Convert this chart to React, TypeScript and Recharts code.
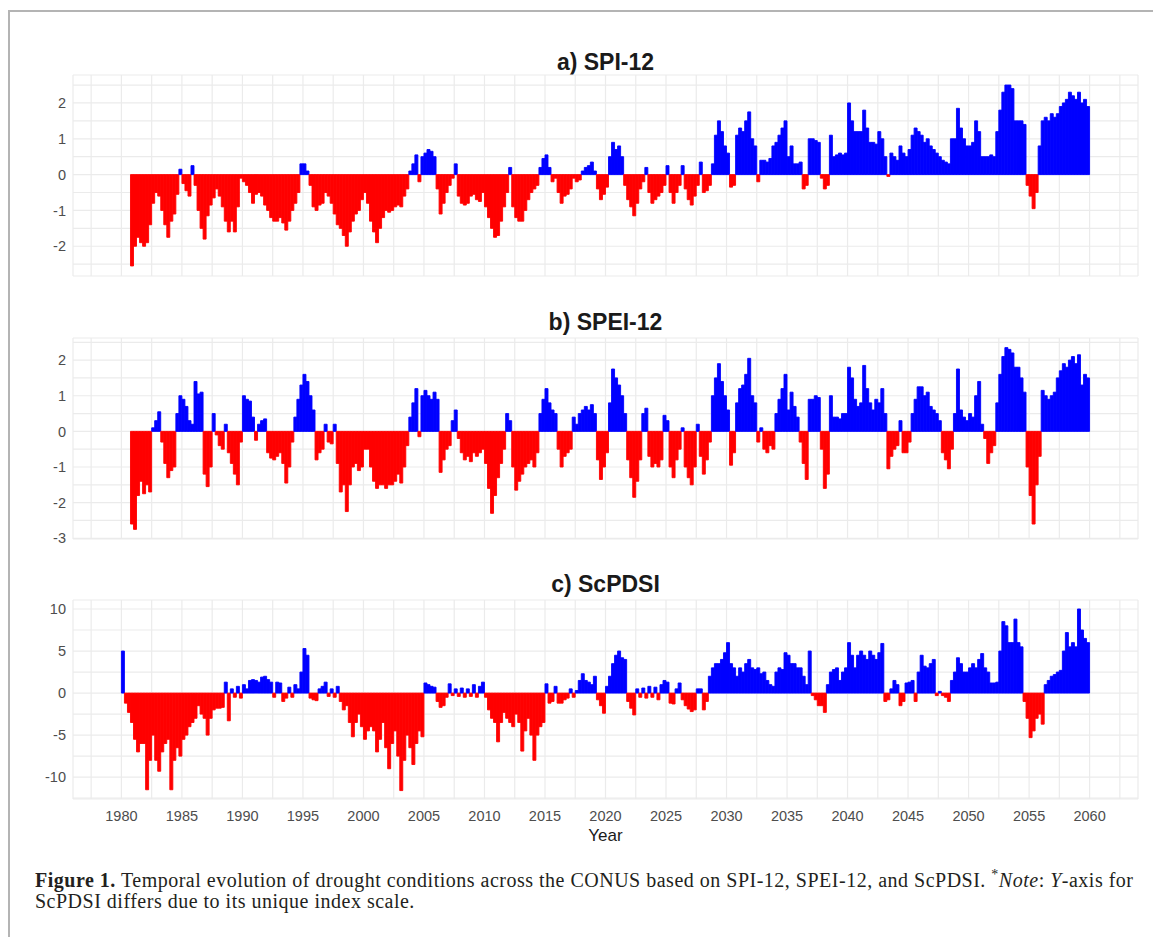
import { Bar, BarChart, CartesianGrid, Cell, XAxis, YAxis } from "recharts";

// Quarterly index values, one row per year (Q1..Q4), 1980 to 2059. null = no value yet.
const spi12 = [
  null, null, null, -2.55, // 1980
  -2.0, -1.75, -1.9, -2.0,
  -1.9, -1.4, -0.8, -0.5,
  -0.6, -1.0, -1.4, -1.75,
  -1.3, -1.1, -0.55, 0.15,
  -0.25, -0.45, -0.6, 0.25, // 1985
  -0.3, -1.0, -1.5, -1.8,
  -1.15, -0.85, -0.65, -0.4,
  -0.6, -0.9, -1.3, -1.6,
  -1.3, -1.6, -0.9, -0.1,
  -0.2, -0.3, -0.5, -0.8, // 1990
  -0.55, -0.5, -0.6, -0.85,
  -1.0, -1.2, -1.3, -1.3,
  -1.2, -1.35, -1.55, -1.3,
  -1.0, -0.8, -0.5, 0.3,
  0.3, 0.1, -0.3, -0.9, // 1995
  -1.0, -0.85, -0.8, -0.5,
  -0.6, -0.8, -1.1, -1.4,
  -1.5, -1.7, -2.0, -1.6,
  -1.3, -1.1, -1.0, -0.7,
  -0.5, -0.8, -1.3, -1.6, // 2000
  -1.9, -1.5, -1.2, -1.0,
  -1.05, -1.0, -0.9, -0.85,
  -0.9, -0.6, -0.4, 0.1,
  0.3, 0.55, -0.2, 0.5,
  0.6, 0.7, 0.65, 0.5, // 2005
  -0.4, -1.1, -0.8, -0.5,
  -0.3, -0.1, 0.3, -0.6,
  -0.8, -0.85, -0.8, -0.6,
  -0.55, -0.7, -0.75, -0.5,
  -0.9, -1.2, -1.5, -1.75, // 2010
  -1.7, -1.3, -0.9, -0.5,
  0.2, -0.9, -1.2, -1.3,
  -1.3, -1.0, -0.7, -0.5,
  -0.4, -0.3, 0.2, 0.45,
  0.55, 0.2, -0.2, -0.1, // 2015
  -0.5, -0.8, -0.6, -0.55,
  -0.4, -0.1, -0.2, -0.15,
  0.1, 0.2, 0.25, 0.35,
  0.1, -0.4, -0.7, -0.55,
  -0.35, 0.5, 0.9, 0.7, // 2020
  0.8, 0.5, -0.3, -0.7,
  -0.9, -1.15, -0.8, -0.4,
  -0.2, 0.2, -0.5, -0.8,
  -0.7, -0.6, -0.5, -0.3,
  0.25, -0.5, -0.8, -0.5, // 2025
  -0.3, 0.25, -0.4, -0.7,
  -0.85, -0.6, -0.3, 0.35,
  -0.5, -0.45, -0.3, 0.3,
  1.1, 1.5, 1.2, 0.8,
  0.6, -0.35, -0.3, 1.1, // 2030
  1.3, 1.2, 1.5, 1.75,
  1.0, 0.8, -0.2, 0.4,
  0.4, 0.35, 0.45, 0.8,
  0.9, 1.1, 1.3, 1.5,
  0.5, 0.8, 0.3, 0.3, // 2035
  0.35, -0.4, -0.3, 1.0,
  1.0, 0.95, 0.9, -0.1,
  -0.4, -0.3, 1.1, 0.5,
  0.55, 0.6, 0.55, 0.6,
  2.0, 1.5, 1.2, 1.2, // 2040
  1.2, 1.8, 1.3, 0.9,
  0.9, 0.85, 1.2, 1.0,
  0.5, -0.05, 0.6, 0.5,
  0.4, 0.8, 0.6, 0.5,
  0.7, 1.1, 1.3, 1.2, // 2045
  1.1, 0.9, 1.0, 0.8,
  0.7, 0.6, 0.5, 0.4,
  0.35, 0.3, 1.0, 1.0,
  1.85, 1.3, 1.0, 0.8,
  0.8, 0.9, 1.5, 1.2, // 2050
  0.5, 0.5, 0.5, 0.55,
  0.5, 1.2, 1.8, 2.3,
  2.5, 2.5, 2.4, 1.5,
  1.5, 1.5, 1.4, -0.3,
  -0.6, -0.95, -0.5, 0.8, // 2055
  1.5, 1.6, 1.5, 1.7,
  1.6, 1.7, 1.9, 2.0,
  2.1, 2.3, 2.2, 2.1,
  2.3, 2.0, 2.1, 1.9,
];

const spei12 = [
  null, null, null, -2.6, // 1980
  -2.75, -1.8, -1.4, -1.75,
  -1.5, -1.7, 0.1, 0.3,
  0.55, -0.3, -0.9, -1.3,
  -1.1, -1.0, 0.5, 1.0,
  0.9, 0.7, 0.3, 0.2, // 1985
  1.4, 1.05, 1.1, -1.2,
  -1.55, -1.0, 0.5, -0.1,
  -0.4, -0.5, 0.2, -0.6,
  -0.9, -1.2, -1.5, -0.3,
  1.0, 0.9, 0.85, 0.4, // 1990
  -0.25, 0.2, 0.3, 0.35,
  -0.6, -0.75, -0.8, -0.7,
  -0.6, -0.9, -1.45, -1.0,
  -0.3, 0.4, 0.9, 1.3,
  1.6, 1.4, 1.0, 0.6, // 1995
  -0.8, -0.6, -0.5, 0.2,
  -0.3, -0.35, 0.2, -0.9,
  -1.7, -1.5, -2.25, -1.5,
  -1.0, -0.9, -1.1, -1.0,
  -0.5, -0.5, -1.0, -1.4, // 2000
  -1.6, -1.5, -1.5, -1.6,
  -1.5, -1.5, -1.4, -1.2,
  -1.45, -1.0, -0.4, 0.4,
  0.8, 1.2, -0.15, 1.0,
  1.15, 1.0, 0.9, 1.1, // 2005
  0.9, -1.15, -0.8, -0.5,
  -0.4, 0.3, 0.6, -0.2,
  -0.6, -0.8, -0.7, -0.85,
  -0.6, -0.7, -0.6, -0.5,
  -0.9, -1.6, -2.3, -1.8, // 2010
  -1.3, -0.9, -0.5, 0.5,
  0.3, -1.0, -1.65, -1.4,
  -1.2, -1.0, -0.9, -0.8,
  -1.0, -0.6, 0.5, 0.9,
  1.2, 0.8, 0.6, 0.5, // 2015
  -0.5, -1.0, -0.7, -0.6,
  -0.5, 0.4, 0.2, 0.5,
  0.6, 0.7, 0.6, 0.75,
  0.5, -0.8, -1.35, -1.0,
  -0.6, 0.8, 1.75, 1.5, // 2020
  1.3, 1.0, 0.5, -0.8,
  -1.3, -1.85, -1.4, -0.8,
  0.5, 0.65, -0.7, -1.0,
  -0.9, -1.0, -0.8, 0.45,
  0.3, -1.0, -1.3, -0.8, // 2025
  -0.5, 0.1, -1.0, -1.3,
  -1.5, -1.0, 0.2, -0.7,
  -1.2, -0.8, -0.3, 1.0,
  1.5, 1.9, 1.4, 1.0,
  0.6, -0.95, -0.6, 0.8, // 2030
  1.2, 1.3, 1.6, 2.05,
  1.0, 0.8, -0.3, 0.1,
  -0.5, -0.6, -0.4, -0.5,
  0.5, 0.9, 1.2, 1.6,
  0.6, 1.1, 0.7, 0.4, // 2035
  -0.3, -0.9, -1.35, 0.9,
  0.9, 1.0, 0.95, -0.5,
  -1.6, -1.2, 1.0, 0.4,
  0.4, 0.35, 0.5, 0.5,
  1.8, 1.5, 0.9, 0.7, // 2040
  0.8, 1.85, 1.2, 0.8,
  0.6, 0.9, 0.8, 1.2,
  0.5, -1.05, -0.7, -0.5,
  -0.4, 0.3, -0.6, -0.6,
  -0.3, 0.5, 0.9, 1.25, // 2045
  1.25, 1.0, 1.1, 0.7,
  0.6, 0.5, 0.3, -0.6,
  -0.8, -1.05, -0.5, 0.5,
  1.75, 0.6, 0.4, 0.3,
  0.5, 0.4, 1.0, 1.4, // 2050
  0.2, -0.2, -0.9, -0.6,
  -0.4, 0.8, 1.6, 2.1,
  2.35, 2.3, 2.2, 1.8,
  1.8, 1.5, 1.1, -1.0,
  -1.8, -2.6, -1.5, -0.7, // 2055
  1.15, 1.0, 0.9, 1.0,
  1.1, 1.5, 1.7, 1.9,
  1.8, 2.0, 2.1, 1.9,
  2.15, 1.3, 1.6, 1.5,
];

const scpdsi = [
  5.0, -1.2, -2.3, -3.5, // 1980
  -5.5, -7.0, -6.0, -6.0,
  -11.5, -8.0, -5.0, -8.0,
  -9.3, -7.0, -6.0, -5.5,
  -11.5, -8.0, -6.5, -7.5,
  -5.5, -5.0, -4.0, -3.5, // 1985
  -3.0, -1.5, -2.5, -3.0,
  -5.0, -3.0, -2.0, -1.8,
  -1.8, -1.7, 1.3, -3.3,
  0.5, -0.5, 0.8, -0.6,
  1.0, 0.5, 1.5, 1.6, // 1990
  1.5, 1.3, 1.9, 2.0,
  1.6, 1.3, -0.5, 1.3,
  1.2, -1.0, -0.6, 0.7,
  -0.5, 1.0, 0.5, 2.5,
  5.3, 4.5, -0.6, -0.8, // 1995
  -0.9, 0.5, 0.8, 1.3,
  -0.4, 0.5, -0.5, 0.8,
  -1.0, -2.0, -1.5, -3.5,
  -5.2, -3.5, -2.5, -4.0,
  -5.5, -4.5, -4.0, -4.5, // 2000
  -7.0, -5.5, -3.5, -6.5,
  -9.0, -6.0, -4.5, -7.5,
  -11.6, -8.0, -5.0, -6.5,
  -8.5, -6.0, -4.5, -5.2,
  1.2, 1.0, 0.8, 0.7, // 2005
  -1.0, -1.7, -1.5, -0.5,
  1.1, -0.3, 0.5, -0.4,
  0.6, -0.5, 0.5, -0.4,
  1.0, -0.5, 0.8, 1.3,
  -0.5, -2.0, -3.0, -3.5, // 2010
  -5.8, -3.5, -2.3, -3.0,
  -3.5, -4.0, -2.5, -3.5,
  -6.9, -4.5, -3.0, -5.0,
  -8.0, -5.0, -4.0, -3.5,
  1.1, -1.2, -1.0, 0.8, // 2015
  -1.2, -1.2, -0.8, -0.6,
  0.5, -0.5, 0.3, 1.5,
  2.3, 1.5, 1.3, 1.0,
  2.0, -0.8, -1.5, -2.4,
  0.8, 2.0, 3.5, 4.5, // 2020
  5.0, 4.2, 4.0, -1.0,
  -1.8, -2.6, 0.5, -0.5,
  0.6, -0.6, 0.8, -0.5,
  0.7, -0.8, 1.0, 1.5,
  1.3, -1.2, -1.3, 0.5, // 2025
  1.2, -0.8, -1.5, -1.9,
  -2.2, -2.0, 0.5, 0.5,
  -2.0, -1.0, 2.0, 3.0,
  3.5, 3.5, 4.0, 4.8,
  6.0, 3.5, 3.0, 2.0, // 2030
  3.0, 2.5, 3.5, 4.0,
  3.0, 2.8, 3.0, 2.3,
  2.5, 1.5, 1.0, 0.8,
  2.5, 3.0, 2.8, 4.8,
  4.5, 3.5, 3.5, 3.0, // 2035
  3.0, 2.0, 1.0, 5.0,
  -0.3, -0.8, -1.5, -1.5,
  -2.3, 1.0, 2.5, 2.8,
  3.0, 1.5, 2.5, 3.0,
  6.0, 4.5, 3.0, 4.5, // 2040
  5.0, 4.5, 4.0, 5.0,
  4.5, 4.0, 4.8, 5.9,
  -1.0, -0.8, 0.5, 1.5,
  1.0, -1.5, -1.0, 1.2,
  1.3, 1.5, -1.0, 2.5, // 2045
  4.5, 3.2, 3.0, 3.5,
  4.0, -0.3, 0.2, -0.3,
  -0.5, -1.0, 1.5, 2.5,
  4.2, 3.5, 2.5, 2.5,
  3.0, 3.5, 3.0, 4.0, // 2050
  4.7, 3.0, 2.5, 1.2,
  1.2, 1.3, 5.0, 8.5,
  8.0, 6.0, 6.0, 8.8,
  6.0, 5.5, -1.0, -3.0,
  -5.3, -4.5, -3.0, -2.5, // 2055
  -3.7, 1.0, 1.5, 2.0,
  2.2, 2.5, 2.7, 5.0,
  7.2, 5.5, 6.0, 5.5,
  10.0, 7.5, 6.5, 6.0,
];

const yearTicks = [
  1977.5, 1980, 1982.5, 1985, 1987.5, 1990, 1992.5, 1995, 1997.5, 2000, 2002.5, 2005,
  2007.5, 2010, 2012.5, 2015, 2017.5, 2020, 2022.5, 2025, 2027.5, 2030, 2032.5, 2035,
  2037.5, 2040, 2042.5, 2045, 2047.5, 2050, 2052.5, 2055, 2057.5, 2060, 2062.5,
];
const spiTicks = [-2.5, -2, -1.5, -1, -0.5, 0, 0.5, 1, 1.5, 2, 2.5];
const speiTicks = [-3, -2.5, -2, -1.5, -1, -0.5, 0, 0.5, 1, 1.5, 2, 2.5];
const pdsiTicks = [-12.5, -10, -7.5, -5, -2.5, 0, 2.5, 5, 7.5, 10];

const FONT = "'Liberation Sans', Arial, sans-serif";
const RED = "#ff0000";
const BLUE = "#0000ff";

const toRows = (vals: (number | null)[]) =>
  vals
    .map((v, i) => ({ t: 1980 + i / 4 + 0.125, v }))
    .filter((r) => r.v !== null) as { t: number; v: number }[];

interface PanelProps {
  title: string;
  values: (number | null)[];
  yTicks: number[];
  yDomain: [number, number];
  labelStep: number;
  top: number;
  plotHeight: number;
  titleY: number;
  showYears: boolean;
}

function Panel({ title, values, yTicks, yDomain, labelStep, top, plotHeight, titleY, showYears }: PanelProps) {
  const rows = toRows(values);
  const tickStyle = { fontSize: 14.5, fill: "#4d4d4d", fontFamily: FONT };
  return (
    <>
      <div
        style={{
          position: "absolute",
          left: 73,
          width: 1065,
          top: titleY - 13,
          lineHeight: "26px",
          textAlign: "center",
          fontFamily: FONT,
          fontWeight: "bold",
          fontSize: 23,
          color: "#1a1a1a",
        }}
      >
        {title}
      </div>
      <div style={{ position: "absolute", left: 0, top: top - 5 }}>
        <BarChart
          width={1153}
          height={plotHeight + 35}
          data={rows}
          margin={{ top: 5, right: 15, bottom: 0, left: 0 }}
          barCategoryGap={0}
          barGap={0}
        >
          <CartesianGrid stroke="#ebebeb" strokeWidth={1.2} />
          <XAxis
            dataKey="t"
            type="number"
            domain={[1976, 2064]}
            allowDataOverflow
            ticks={yearTicks}
            interval={0}
            height={30}
            axisLine={false}
            tickLine={false}
            tickSize={0}
            tickMargin={12}
            tick={tickStyle}
            tickFormatter={(v: number) => (showYears && v % 5 === 0 ? String(v) : "")}
          />
          <YAxis
            type="number"
            domain={yDomain}
            allowDataOverflow
            ticks={yTicks}
            interval={0}
            width={73}
            axisLine={false}
            tickLine={false}
            tickSize={0}
            tickMargin={7}
            tick={tickStyle}
            tickFormatter={(v: number) => (v % labelStep === 0 ? String(v) : "")}
          />
          <Bar dataKey="v" barSize={3} isAnimationActive={false}>
            {rows.map((r) => (
              <Cell
                key={r.t}
                fill={r.v < 0 ? RED : BLUE}
                stroke={r.v < 0 ? RED : BLUE}
                strokeWidth={0.9}
              />
            ))}
          </Bar>
        </BarChart>
      </div>
    </>
  );
}

export default function App() {
  return (
    <div
      style={{
        position: "fixed",
        left: 0,
        top: 0,
        width: 1153,
        height: 937,
        overflow: "hidden",
        background: "#fff",
      }}
    >
      <div
        style={{
          position: "absolute",
          left: 8,
          top: 10,
          width: 1153,
          height: 937,
          borderTop: "2px solid #b4b4b4",
          borderLeft: "2px solid #b4b4b4",
        }}
      />
      <Panel
        title="a) SPI-12"
        values={spi12}
        yTicks={spiTicks}
        yDomain={[-2.83, 2.78]}
        labelStep={1}
        top={75}
        plotHeight={201}
        titleY={62}
        showYears={false}
      />
      <Panel
        title="b) SPEI-12"
        values={spei12}
        yTicks={speiTicks}
        yDomain={[-3.02, 2.62]}
        labelStep={1}
        top={338}
        plotHeight={201}
        titleY={322}
        showYears={false}
      />
      <Panel
        title="c) ScPDSI"
        values={scpdsi}
        yTicks={pdsiTicks}
        yDomain={[-12.6, 11.07]}
        labelStep={5}
        top={600}
        plotHeight={199}
        titleY={584}
        showYears={true}
      />
      <div
        style={{
          position: "absolute",
          left: 73,
          width: 1065,
          top: 826,
          lineHeight: "20px",
          textAlign: "center",
          fontFamily: FONT,
          fontSize: 17,
          color: "#1a1a1a",
        }}
      >
        Year
      </div>
      <div
        style={{
          position: "absolute",
          left: 35,
          top: 870,
          lineHeight: "21px",
          fontFamily: "'Liberation Serif', 'Times New Roman', serif",
          fontSize: 20,
          letterSpacing: 0.5,
          color: "#231f20",
          whiteSpace: "nowrap",
        }}
      >
        <b>Figure 1.</b> Temporal evolution of drought conditions across the CONUS based on SPI-12, SPEI-12, and
        ScPDSI. <sup style={{ fontSize: "0.7em", lineHeight: 0 }}>*</sup>
        <i>Note</i>: <i>Y</i>-axis for
        <br />
        ScPDSI differs due to its unique index scale.
      </div>
    </div>
  );
}
